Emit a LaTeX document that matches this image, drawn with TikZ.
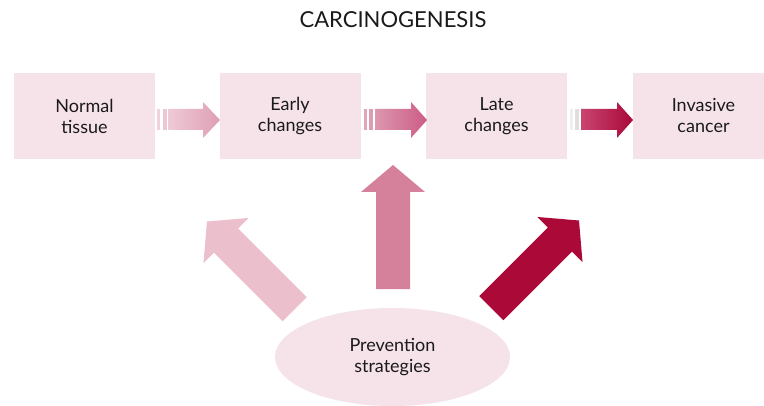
\documentclass[tikz,border=0pt]{standalone}
\usepackage{fontspec}
\setmainfont{Lato}
\usetikzlibrary{shapes.geometric}
\definecolor{boxpink}{HTML}{F6E3EA}
\definecolor{ellpink}{HTML}{F6E2E9}
\definecolor{txt}{HTML}{1A1A1A}
\definecolor{leftpink}{HTML}{EBBFCC}
\definecolor{midpink}{HTML}{D6819B}
\definecolor{crimson}{HTML}{AB0938}
\begin{document}
\begin{tikzpicture}[x=0.75pt,y=-0.75pt,
  box/.style={fill=boxpink, minimum width=105.75pt, minimum height=64.5pt, inner sep=0pt,
    align=center, text=txt, font=\fontsize{13.5}{15.75}\selectfont},
  ell/.style={ellipse, fill=ellpink, minimum width=176.25pt, minimum height=73.5pt, inner sep=0pt,
    align=center, text=txt, font=\fontsize{13.5}{15.75}\selectfont}]
\useasboundingbox (0,0) rectangle (764,406);
\fill[white] (0,0) rectangle (764,406);

\node[text=txt, font=\fontsize{16.5}{20}\selectfont] (title) at (393,20) {CARCINOGENESIS};

\node[box] (normal) at (84.5,116) {Normal\\tissue};
\node[box] (early) at (290,116) {Early\\changes};
\node[box] (late) at (496.5,116) {Late\\changes};
\node[box] (invasive) at (703.5,116) {Invasive\\cancer};

\node[ell] (prev) at (392.5,357) {Prevention\\strategies};

% small horizontal arrows
\fill[color={rgb,255:red,240;green,210;blue,220}] (157,109) rectangle (160,130);
\fill[color={rgb,255:red,236;green,198;blue,210}] (163,109) rectangle (167,130);
\shade[left color={rgb,255:red,238;green,203;blue,214}, right color={rgb,255:red,223;green,158;blue,180}]
  (168,109) -- (203,109) -- (203,102) -- (220,120) -- (203,138) -- (203,130) -- (168,130) -- cycle;

\fill[color={rgb,255:red,224;green,165;blue,184}] (364,109) rectangle (367,130);
\fill[color={rgb,255:red,221;green,156;blue,178}] (369,109) rectangle (373,130);
\shade[left color={rgb,255:red,220;green,151;blue,174}, right color={rgb,255:red,205;green,92;blue,134}]
  (375,109) -- (411,109) -- (411,102) -- (427,120) -- (411,138) -- (411,130) -- (375,130) -- cycle;

\fill[color={rgb,255:red,240;green,238;blue,239}] (570,109) rectangle (573,130);
\fill[color={rgb,255:red,226;green,221;blue,223}] (575,109) rectangle (579,130);
\shade[left color={rgb,255:red,201;green,69;blue,111}, right color={rgb,255:red,169;green,8;blue,58}]
  (581,109) -- (617,109) -- (617,102) -- (633,120) -- (617,138) -- (617,130) -- (581,130) -- cycle;

% big arrows
\begin{scope}[shift={(207,221.5)}, rotate=45]
  \fill[leftpink] (-17,124) -- (-17,27) -- (-32,27) -- (0,0) -- (32,27) -- (17,27) -- (17,124) -- cycle;
\end{scope}
\begin{scope}[shift={(393,165)}]
  \fill[midpink] (-17,124) -- (-17,27) -- (-32,27) -- (0,0) -- (32,27) -- (17,27) -- (17,124) -- cycle;
\end{scope}
\begin{scope}[shift={(579,220.5)}, rotate=-45]
  \fill[crimson] (-17,124) -- (-17,27) -- (-32,27) -- (0,0) -- (32,27) -- (17,27) -- (17,124) -- cycle;
\end{scope}
\end{tikzpicture}
\end{document}
